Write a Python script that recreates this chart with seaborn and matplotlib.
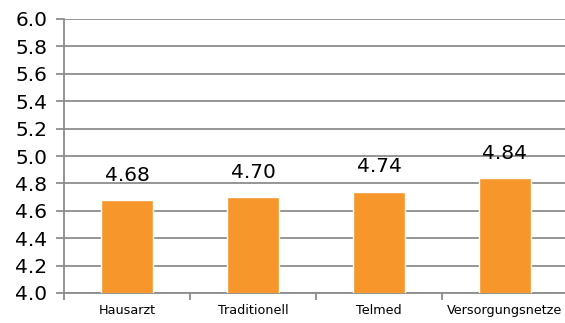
import matplotlib
matplotlib.use("Agg")
import matplotlib.pyplot as plt
import seaborn as sns
import pandas as pd

categories = ["Hausarzt", "Traditionell", "Telmed", "Versorgungsnetze"]
values = [4.68, 4.70, 4.74, 4.84]
y_ticks = [4.0, 4.2, 4.4, 4.6, 4.8, 5.0, 5.2, 5.4, 5.6, 5.8, 6.0]

sns.set_theme(style="white")
plt.rcParams["font.family"] = ["DejaVu Sans"]

df = pd.DataFrame({"Modell": categories, "Wert": values})

W, H = 565, 323
fig = plt.figure(figsize=(W / 100, H / 100), dpi=100)
left, right, top, bottom = 64, 568, 19, 293
ax = fig.add_axes([left / W, (H - bottom) / H, (right - left) / W, (bottom - top) / H])

sns.barplot(data=df, x="Modell", y="Wert", color="#F7962A", width=0.41,
            saturation=1, ax=ax, zorder=3)

grid_c = "#8C8C8C"
ax.set_ylim(4.0, 6.0)
ax.set_xlim(-0.5, len(categories) - 0.5)
ax.set_yticks(y_ticks)
ax.set_yticklabels([f"{t:.1f}" for t in y_ticks], fontsize=14.5, color="black")
ax.yaxis.grid(True, color=grid_c, linewidth=1.3, zorder=0)
ax.set_axisbelow(True)

ax.set_xticks([i - 0.5 for i in range(len(categories) + 1)], minor=False)
ax.set_xticklabels([""] * (len(categories) + 1))
ax.set_xticks(range(len(categories)), minor=True)
ax.set_xticklabels(categories, minor=True, fontsize=9.2, color="black")
ax.tick_params(axis="x", which="major", direction="out", length=5, width=1.3,
               color=grid_c, bottom=True)
ax.tick_params(axis="x", which="minor", length=0, pad=8)
ax.tick_params(axis="y", direction="out", length=6, width=1.3, color=grid_c,
               left=True, pad=6)

for s in ["top", "right"]:
    ax.spines[s].set_visible(False)
for s in ["left", "bottom"]:
    ax.spines[s].set_color(grid_c)
    ax.spines[s].set_linewidth(1.3)

ax.set_xlabel("")
ax.set_ylabel("")

for cont in ax.containers:
    ax.bar_label(cont, labels=[f"{v:.2f}" for v in values], padding=11,
                 fontsize=14.5, color="black")

fig.savefig("out.png", dpi=100)
